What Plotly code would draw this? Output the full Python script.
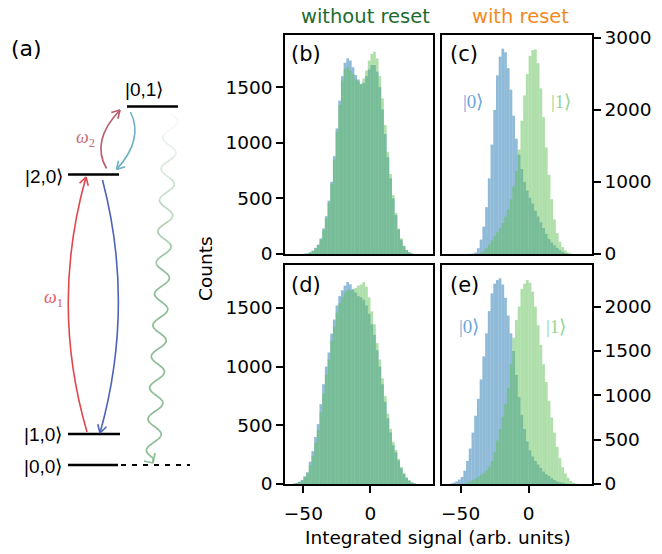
import math
import plotly.graph_objects as go

# ---------------- data ----------------
bin_centers = [-59, -57, -55, -53, -51, -49, -47, -45, -43, -41, -39, -37, -35, -33, -31, -29,
               -27, -25, -23, -21, -19, -17, -15, -13, -11, -9, -7, -5, -3, -1, 1, 3, 5, 7,
               9, 11, 13, 15, 17, 19, 21, 23, 25, 27, 29, 31, 33, 35, 37, 39, 41, 43]

# (b) without reset, first readout
b_ket0 = [0, 0, 0, 0, 0, 2, 5, 15, 30, 55, 85, 140, 230, 340, 480, 650,
          880, 1130, 1380, 1600, 1720, 1760, 1740, 1680, 1610, 1570, 1530, 1540, 1600, 1660, 1700, 1700, 1640, 1500,
          1300, 1080, 870, 680, 500, 350, 220, 130, 70, 35, 15, 5, 0, 0, 0, 0, 0, 0]
b_ket1 = [0, 0, 0, 0, 0, 2, 5, 12, 28, 50, 80, 130, 215, 320, 460, 630,
          850, 1100, 1340, 1560, 1660, 1680, 1650, 1620, 1570, 1550, 1530, 1580, 1650, 1740, 1800, 1820, 1760, 1600,
          1400, 1160, 920, 720, 530, 370, 230, 140, 75, 38, 15, 5, 0, 0, 0, 0, 0, 0]
# (c) with reset, first readout
c_ket0 = [0, 0, 0, 0, 0, 0, 0, 0, 2, 5, 20, 80, 200, 380, 650, 1050,
          1520, 2000, 2480, 2740, 2850, 2800, 2580, 2280, 1920, 1600, 1380, 1180, 1000, 880, 780, 700, 600, 520,
          440, 360, 280, 210, 160, 120, 85, 55, 30, 15, 5, 0, 0, 0, 0, 0, 0, 0]
c_ket1 = [0, 0, 0, 0, 0, 0, 0, 0, 0, 0, 0, 5, 15, 40, 80, 130,
          190, 250, 300, 360, 430, 520, 620, 760, 940, 1150, 1450, 1850, 2200, 2500, 2750, 2830, 2840, 2650,
          2300, 1900, 1480, 1100, 760, 480, 290, 170, 95, 50, 20, 8, 0, 0, 0, 0, 0, 0]
# (d) without reset, second readout
d_ket0 = [0, 3, 10, 20, 35, 65, 100, 190, 280, 400, 510, 680, 850, 1000, 1120, 1280,
          1400, 1520, 1600, 1650, 1690, 1720, 1700, 1660, 1630, 1600, 1590, 1570, 1520, 1450, 1360, 1270, 1140, 1000,
          850, 700, 560, 440, 330, 270, 200, 135, 85, 50, 28, 12, 5, 0, 0, 0, 0, 0]
d_ket1 = [0, 2, 8, 15, 30, 60, 90, 160, 240, 350, 460, 610, 770, 930, 1060, 1220,
          1340, 1460, 1540, 1590, 1630, 1650, 1650, 1650, 1670, 1690, 1700, 1720, 1680, 1590, 1470, 1360, 1200, 1060,
          900, 750, 600, 470, 360, 290, 215, 145, 95, 58, 32, 15, 6, 0, 0, 0, 0, 0]
# (e) with reset, second readout
e_ket0 = [0, 5, 15, 30, 50, 80, 150, 260, 400, 580, 770, 960, 1180, 1440, 1700, 1950,
          2150, 2260, 2300, 2320, 2250, 2100, 1900, 1700, 1500, 1230, 980, 780, 620, 480, 380, 310, 260, 220,
          180, 140, 110, 90, 65, 45, 30, 20, 12, 6, 2, 0, 0, 0, 0, 0, 0, 0]
e_ket1 = [0, 0, 0, 0, 0, 0, 5, 15, 30, 45, 60, 80, 100, 125, 155, 190,
          260, 360, 490, 620, 760, 900, 1080, 1350, 1650, 1850, 2000, 2200, 2260, 2300, 2270, 2170, 2000, 1790,
          1570, 1350, 1150, 940, 750, 580, 420, 290, 190, 120, 70, 35, 15, 5, 0, 0, 0, 0]

bin_width = 2
x_ticks = [-50, 0]
x_tick_text = ["\u221250", "0"]
b_ticks = [0, 500, 1000, 1500]
c_ticks = [0, 1000, 2000, 3000]
d_ticks = [0, 500, 1000, 1500]
e_ticks = [0, 500, 1000, 1500, 2000]
level_labels = ["|0,1\u27e9", "|2,0\u27e9", "|1,0\u27e9", "|0,0\u27e9"]

# ---------------- layout helpers ----------------
W, H = 662, 554
def px(x):
    return x / W
def py(y):
    return 1 - y / H

BLUE = "rgba(31,119,180,0.5)"
GREEN = "rgba(95,192,85,0.5)"
FONT = "DejaVu Sans"
TF = 18.5

fig = go.Figure()

panels = [
    ("x", "y", b_ket0, b_ket1),
    ("x2", "y2", c_ket0, c_ket1),
    ("x3", "y3", d_ket0, d_ket1),
    ("x4", "y4", e_ket0, e_ket1),
]
for xa, ya, k0, k1 in panels:
    fig.add_trace(go.Bar(x=bin_centers, y=k0, width=bin_width, xaxis=xa, yaxis=ya,
                         marker=dict(color=BLUE, line=dict(width=0)), showlegend=False,
                         hoverinfo="skip"))
    fig.add_trace(go.Bar(x=bin_centers, y=k1, width=bin_width, xaxis=xa, yaxis=ya,
                         marker=dict(color=GREEN, line=dict(width=0)), showlegend=False,
                         hoverinfo="skip"))

xr = [-63.7, 46.6]
common_x = dict(range=xr, showline=True, mirror=True, linecolor="black", linewidth=1.5,
                showgrid=False, zeroline=False, automargin=False,
                tickfont=dict(family=FONT, size=TF, color="black"))
common_y = dict(showline=True, mirror=True, linecolor="black", linewidth=1.5,
                showgrid=False, zeroline=False, automargin=False, ticks="outside", ticklen=7,
                tickwidth=1.5, tickcolor="black", tickfont=dict(family=FONT, size=TF, color="black"))

xl = [px(285), px(433)]
xrgt = [px(442), px(592)]
ytop = [py(254), py(35)]
ybot = [py(484), py(265)]

fig.update_layout(
    template="none",
    width=W, height=H, margin=dict(l=0, r=0, t=0, b=0, autoexpand=False),
    paper_bgcolor="white", plot_bgcolor="white", barmode="overlay",
    xaxis=dict(common_x, domain=xl, anchor="y", showticklabels=False, ticks=""),
    yaxis=dict(common_y, domain=ytop, anchor="x", range=[0, 1970], tickvals=b_ticks, side="left"),
    xaxis2=dict(common_x, domain=xrgt, anchor="y2", showticklabels=False, ticks=""),
    yaxis2=dict(common_y, domain=ytop, anchor="x2", range=[0, 3040], tickvals=c_ticks, side="right"),
    xaxis3=dict(common_x, domain=xl, anchor="y3", tickvals=x_ticks, ticktext=x_tick_text,
                ticks="outside", ticklen=7, tickwidth=1.5, tickcolor="black", ticklabelstandoff=5),
    yaxis3=dict(common_y, domain=ybot, anchor="x3", range=[0, 1865], tickvals=d_ticks, side="left"),
    xaxis4=dict(common_x, domain=xrgt, anchor="y4", tickvals=x_ticks, ticktext=x_tick_text,
                ticks="outside", ticklen=7, tickwidth=1.5, tickcolor="black", ticklabelstandoff=5),
    yaxis4=dict(common_y, domain=ybot, anchor="x4", range=[0, 2470], tickvals=e_ticks, side="right"),
)

ann = []
def text(x, y, s, size, color="black", family=FONT, angle=0, xanchor="center"):
    ann.append(dict(x=px(x), y=py(y), xref="paper", yref="paper", text=s, showarrow=False,
                    font=dict(family=family, size=size, color=color), textangle=angle,
                    xanchor=xanchor, yanchor="middle"))

# titles and labels
text(366, 17, "without reset", 19.5, "#1d6b30")
text(520, 17, "with reset", 19.5, "#f28a1e")
text(205, 268, "Counts", TF, angle=-90)
text(438, 537, "Integrated signal (arb. units)", TF)
text(306, 54, "(b)", 21)
text(464, 54, "(c)", 21)
text(306, 285, "(d)", 21)
text(464, 285, "(e)", 21)
text(26, 48, "(a)", 22)

KFONT = "Liberation Serif"
text(473, 102, "|0\u27e9", 19, "#6aa6d8", KFONT)
text(561, 102, "|1\u27e9", 19, "#95d595", KFONT)
text(469, 326, "|0\u27e9", 19, "#6aa6d8", KFONT)
text(556, 326, "|1\u27e9", 19, "#95d595", KFONT)

# level diagram labels
LF = "Liberation Sans"
text(144, 89, level_labels[0], 19, family=LF)
text(44, 176, level_labels[1], 19, family=LF)
text(43, 435, level_labels[2], 19, family=LF)
text(43, 466, level_labels[3], 19, family=LF)
text(85, 138, "<i>\u03c9</i><sub>2</sub>", 18, "#c46a78", "Liberation Serif")
text(53, 298, "<i>\u03c9</i><sub>1</sub>", 18, "#e25a5f", "Liberation Serif")

fig.update_layout(annotations=ann)

shapes = []
def seg(x0, y0, x1, y1, color="black", width=2.5, dash="solid", opacity=1.0):
    shapes.append(dict(type="line", xref="paper", yref="paper", x0=px(x0), y0=py(y0),
                       x1=px(x1), y1=py(y1), line=dict(color=color, width=width, dash=dash),
                       opacity=opacity))

# energy levels
seg(127, 106.5, 178, 106.5)
seg(68, 174.5, 119, 174.5)
seg(68, 434, 120, 434)
seg(68, 465, 118, 465)
shapes.append(dict(type="line", xref="paper", yref="paper", x0=px(121), y0=py(465), x1=px(190),
                   y1=py(465), line=dict(color="black", width=2, dash="5px,6px")))

def curve_arrow(p0, c, p1, color, width=1.6, head=9):
    path = f"M {px(p0[0])},{py(p0[1])} Q {px(c[0])},{py(c[1])} {px(p1[0])},{py(p1[1])}"
    shapes.append(dict(type="path", xref="paper", yref="paper", path=path,
                       line=dict(color=color, width=width)))
    dx, dy = p1[0] - c[0], p1[1] - c[1]
    n = math.hypot(dx, dy)
    dx, dy = dx / n, dy / n
    for a in (math.radians(30), math.radians(-30)):
        rx = dx * math.cos(a) - dy * math.sin(a)
        ry = dx * math.sin(a) + dy * math.cos(a)
        seg(p1[0], p1[1], p1[0] - head * rx, p1[1] - head * ry, color=color, width=width)

curve_arrow((87, 432), (50, 305), (86, 177), "#e0474c")
curve_arrow((102.5, 180), (135.5, 306), (100, 433), "#4d63b8")
curve_arrow((106.5, 168.5), (90.5, 141), (120, 110), "#b75a6c")
curve_arrow((130.5, 112), (144, 139.5), (116.5, 169.5), "#6fb0c4")

# decay (wavy) arrow
x0, y0, x1, y1 = 171.0, 114.0, 153.0, 458.0
amp, periods, npts = 7.0, 11, 400
pts = []
for i in range(npts + 1):
    t = i / npts
    pts.append((x0 + (x1 - x0) * t + amp * math.sin(2 * math.pi * periods * t), y0 + (y1 - y0) * t))
nseg = 16
for s in range(nseg):
    a = s * npts // nseg
    b = (s + 1) * npts // nseg
    sub = pts[a:b + 1]
    path = "M " + " L ".join(f"{px(x)},{py(y)}" for x, y in sub)
    op = min(1.0, 0.08 + 0.9 * (s / (nseg * 0.45)))
    shapes.append(dict(type="path", xref="paper", yref="paper", path=path,
                       line=dict(color="#8dbd94", width=1.7), opacity=op))
seg(153, 458, 153, 463, color="#8dbd94", width=1.7)
seg(153, 463, 144, 461, color="#8dbd94", width=1.7)
seg(153, 463, 155, 453, color="#8dbd94", width=1.7)

fig.update_layout(shapes=shapes)
fig.write_html("out.html", config={"displayModeBar": False},
               post_script="document.body.style.margin='0';document.body.style.overflow='hidden';")
